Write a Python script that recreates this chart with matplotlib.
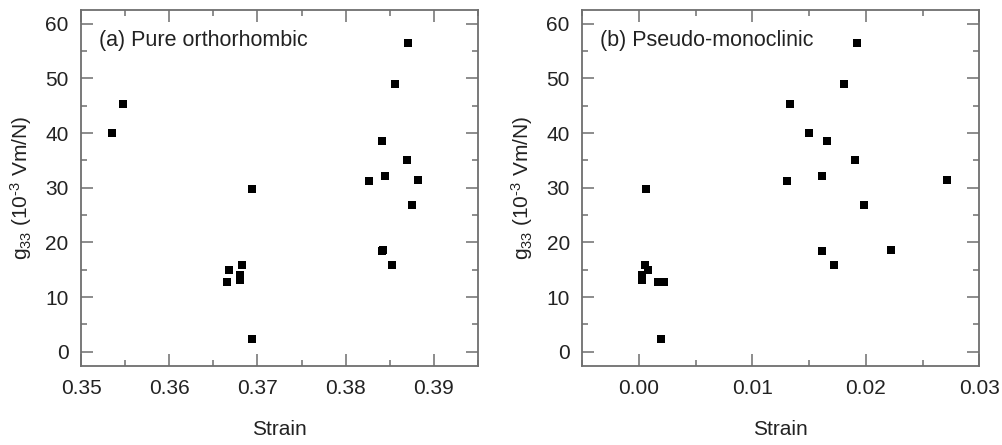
import numpy as np
import matplotlib
matplotlib.use("Agg")
import matplotlib.pyplot as plt
from matplotlib.ticker import MultipleLocator

plt.rcParams['font.family'] = ['Liberation Sans', 'DejaVu Sans']
plt.rcParams['mathtext.fontset'] = 'custom'
plt.rcParams['mathtext.rm'] = 'Liberation Sans'
plt.rcParams['mathtext.it'] = 'Liberation Sans'

# g33 values (10^-3 Vm/N), same samples in both panels
g33 = [40.1, 45.3, 29.7, 2.4, 14.9, 15.8, 14.0, 13.1, 12.8, 12.7,
       56.5, 48.9, 38.6, 35.0, 32.2, 31.5, 31.2, 26.9, 18.6, 18.4, 15.8]
# strain for pure orthorhombic
strain_a = [0.3535, 0.3548, 0.3694, 0.3694, 0.3668, 0.3682, 0.3680, 0.3680, 0.3665, 0.3666,
            0.3871, 0.3856, 0.3841, 0.3869, 0.3845, 0.3882, 0.3826, 0.3875, 0.3842, 0.3841, 0.3853]
# strain for pseudo-monoclinic
strain_b = [0.01497, 0.01332, 0.00064, 0.0019, 0.00082, 0.00056, 0.00029, 0.00029, 0.0022, 0.0017,
            0.0192, 0.01805, 0.01661, 0.01901, 0.01611, 0.02717, 0.01303, 0.01981, 0.02221, 0.01617, 0.01717]

grey = '#6e6e6e'
txt = '#222222'

fig = plt.figure(figsize=(10.03, 4.45), dpi=100)
ax1 = fig.add_axes([0.0808, 0.1775, 0.3958, 0.80])
ax2 = fig.add_axes([0.5806, 0.1775, 0.3958, 0.80])

panels = [(ax1, strain_a, '(a) Pure orthorhombic', (0.35, 0.395)),
          (ax2, strain_b, '(b) Pseudo-monoclinic', (-0.005, 0.03))]

for ax, x, label, xlim in panels:
    ax.plot(x, g33, 's', color='black', markersize=5.2, markeredgewidth=0)
    ax.set_xlim(*xlim)
    ax.set_ylim(-2.6, 62.5)
    ax.xaxis.set_major_locator(MultipleLocator(0.01))
    ax.xaxis.set_minor_locator(MultipleLocator(0.005))
    ax.yaxis.set_major_locator(MultipleLocator(10))
    ax.yaxis.set_minor_locator(MultipleLocator(5))
    ax.xaxis.set_major_formatter(plt.FuncFormatter(lambda v, p: '{:.2f}'.format(v + 0.0)))
    ax.tick_params(which='both', direction='in', top=True, right=True,
                   color=grey, width=1.1, labelsize=15, labelcolor=txt, pad=9)
    ax.tick_params(which='major', length=8.6)
    ax.tick_params(which='minor', length=4.3)
    for s in ax.spines.values():
        s.set_color(grey)
        s.set_linewidth(1.3)
    ax.set_xlabel('Strain', fontsize=15, color=txt, labelpad=16)
    ax.set_ylabel('g$_{33}$ (10$^{\\text{-}3}$ Vm/N)', fontsize=15, color=txt, labelpad=8)
    ax.text(0.045, 0.915, label, transform=ax.transAxes, fontsize=15.5, color=txt,
            va='center', ha='left')

fig.savefig('out.png', dpi=100)
